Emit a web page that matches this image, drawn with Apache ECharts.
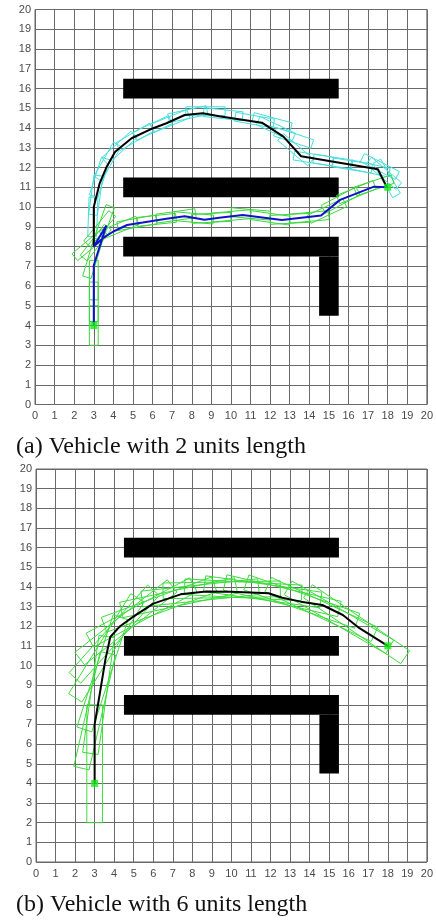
<!DOCTYPE html>
<html>
<head>
<meta charset="utf-8">
<script src="https://cdn.jsdelivr.net/npm/echarts@6/dist/echarts.min.js"></script>
<style>html,body{margin:0;padding:0;background:#fff}#c{width:436px;height:921px}</style>
</head>
<body>
<div id="c"></div>
<script>
// ---- data ----
const ticks = [0,1,2,3,4,5,6,7,8,9,10,11,12,13,14,15,16,17,18,19,20];
// obstacles: [x1, y1, x2, y2]
const obstacles = [[4.5,15.5,15.5,16.5],[4.5,10.5,15.5,11.5],[4.5,7.5,15.5,8.5],[14.5,4.5,15.5,7.5]];
const startPt = [3,4];
const goalPt = [18,11];

// (a) vehicle 2 units length
const blackA = [[3,8],[3,10],[3.3,11.2],[3.66,12.04],[4.09,12.8],[4.93,13.48],[6.03,13.99],[6.71,14.24],[7.64,14.66],[8.57,14.75],[9.4,14.6],[11.58,14.27],[12.68,13.56],[13.58,12.57],[17.5,11.91],[17.93,11.05],[18,11]];
const blueA = [[3,4],[3,7.05],[3.64,9.06],[3,8],[3.5,8.45],[4.0,8.76],[4.7,9.09],[5.5,9.21],[6.71,9.4],[7.64,9.53],[8.65,9.35],[9.4,9.46],[10.6,9.6],[12.6,9.34],[14.6,9.57],[15.57,10.36],[17.3,11.03],[18,11]];
// vehicle poses [cx, cy, heading deg]
const cyanA = [[2.95,9.5,88],[3.1,10.6,82],[3.3,11.5,72],[3.7,12.3,60],[4.3,13.0,42],[5.1,13.55,30],[6.0,14.0,25],[6.9,14.35,22],[7.8,14.7,12],[8.7,14.85,0],[9.6,14.7,-6],[11.2,14.4,-10],[12.1,14.3,-15],[12.3,13.95,-25],[13.2,13.5,-18],[13.3,12.9,-40],[14.2,12.45,-9],[15.2,12.3,-9],[16.2,12.1,-9],[17.1,11.95,-12],[17.6,12.05,-27],[17.8,11.7,-40],[17.95,11.45,-60]];
const greenA = [[3,4,90],[3,5.2,90],[3,6.3,90],[2.94,7.4,73],[2.8,8.1,40],[3.1,8.2,52],[3.3,8.9,50],[3.5,9.1,70],[4.3,8.95,22],[5.2,9.2,10],[6.2,9.35,6],[7.2,9.55,8],[8.1,9.45,-5],[9.0,9.45,3],[10.0,9.55,5],[11.0,9.65,-5],[12.0,9.45,-8],[13.0,9.4,3],[14.0,9.5,5],[14.9,9.8,25],[15.6,10.35,28],[16.4,10.75,22],[17.3,11.1,18]];

// (b) vehicle 6 units length
const blackB = [[3,4],[3,7],[3.27,8.6],[3.55,10.3],[3.8,11.45],[4.3,12.0],[5.0,12.5],[6.0,13.15],[7.4,13.62],[8.7,13.76],[10,13.75],[11.9,13.68],[12.6,13.45],[13.55,13.25],[14.65,13.08],[15.7,12.57],[16.55,11.9],[18,11]];
const greenB = [[3,5,90],[3.0,7.7,77],[3.2,8.5,82],[3.4,9.6,72],[3.6,10.9,58],[4.0,11.6,48],[4.6,12.2,38],[5.4,12.7,28],[6.3,13.1,20],[7.3,13.45,12],[8.4,13.7,6],[9.5,13.85,1],[10.6,13.85,-3],[11.6,13.75,-8],[12.6,13.55,-13],[13.6,13.25,-19],[14.6,12.85,-25],[15.5,12.45,-30],[16.4,12.1,-34]];

const captions = ['(a) Vehicle with 2 units length','(b) Vehicle with 6 units length'];

// ---- chart ----
const chart = echarts.init(document.getElementById('c'), null, {renderer:'canvas'});

function axisCommon(idx){
  return {
    type:'value', min:0, max:20, interval:1, gridIndex:idx,
    axisLine:{show:false}, axisTick:{show:false},
    axisLabel:{fontSize:11, color:'#4a4a4a', fontFamily:'Liberation Sans, Arial, sans-serif'},
    splitLine:{show:true, lineStyle:{color:'#6a6a6a', width:1}}
  };
}
function obstacleSeries(idx){
  return {
    type:'custom', xAxisIndex:idx, yAxisIndex:idx, data:obstacles, z:3,
    encode:{x:[0,2], y:[1,3]},
    renderItem:function(p, api){
      const a = api.coord([api.value(0), api.value(3)]);
      const b = api.coord([api.value(2), api.value(1)]);
      return {type:'rect', shape:{x:a[0], y:a[1], width:b[0]-a[0], height:b[1]-a[1]}, style:{fill:'#000'}};
    }
  };
}
function vehicleSeries(idx, data, L, W, color){
  return {
    type:'custom', xAxisIndex:idx, yAxisIndex:idx, data:data, z:4, clip:true,
    encode:{x:0, y:1},
    renderItem:function(p, api){
      const cx = api.value(0), cy = api.value(1), h = api.value(2)*Math.PI/180;
      const ux = Math.cos(h), uy = Math.sin(h), nx = -uy, ny = ux;
      const hl = L/2, hw = W/2;
      const pts = [[cx-hl*ux-hw*nx, cy-hl*uy-hw*ny],[cx+hl*ux-hw*nx, cy+hl*uy-hw*ny],[cx+hl*ux+hw*nx, cy+hl*uy+hw*ny],[cx-hl*ux+hw*nx, cy-hl*uy+hw*ny]].map(q=>api.coord(q));
      return {type:'polygon', shape:{points:pts}, style:{fill:'none', stroke:color, lineWidth:1}};
    }
  };
}
function pathSeries(idx, data, color){
  return {type:'line', xAxisIndex:idx, yAxisIndex:idx, data:data, showSymbol:false, z:5,
    lineStyle:{color:color, width:2}, animation:false};
}
function markerSeries(idx){
  return {type:'scatter', xAxisIndex:idx, yAxisIndex:idx, data:[startPt, goalPt], z:6,
    symbol:'rect', symbolSize:7, itemStyle:{color:'#11ee11'}};
}

const option = {
  animation:false,
  backgroundColor:'#fff',
  grid:[
    {left:35, top:9.5, width:393, height:395, show:true, borderColor:'#666', borderWidth:1},
    {left:36, top:469, width:391, height:393, show:true, borderColor:'#666', borderWidth:1}
  ],
  xAxis:[Object.assign(axisCommon(0),{axisLabel:Object.assign(axisCommon(0).axisLabel,{margin:6})}),
         Object.assign(axisCommon(1),{axisLabel:Object.assign(axisCommon(1).axisLabel,{margin:6})})],
  yAxis:[Object.assign(axisCommon(0),{axisLabel:Object.assign(axisCommon(0).axisLabel,{margin:4})}),
         Object.assign(axisCommon(1),{axisLabel:Object.assign(axisCommon(1).axisLabel,{margin:4})})],
  graphic:[
    {type:'text', x:16, y:447, style:{text:captions[0], font:'24px "Liberation Serif", "Times New Roman", serif', fill:'#111', verticalAlign:'middle'}},
    {type:'text', x:16, y:905, style:{text:captions[1], font:'24px "Liberation Serif", "Times New Roman", serif', fill:'#111', verticalAlign:'middle'}}
  ],
  series:[
    obstacleSeries(0),
    vehicleSeries(0, cyanA, 2, 0.45, '#45dede'),
    vehicleSeries(0, greenA, 2, 0.45, '#3cd83c'),
    pathSeries(0, blackA, '#000'),
    pathSeries(0, blueA, '#1212cc'),
    markerSeries(0),
    obstacleSeries(1),
    vehicleSeries(1, greenB, 6, 0.8, '#3cdc3c'),
    pathSeries(1, blackB, '#000'),
    markerSeries(1)
  ]
};
chart.setOption(option);
</script>
</body>
</html>
